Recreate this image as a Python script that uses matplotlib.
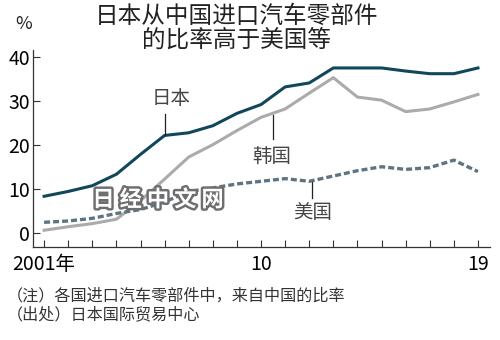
import matplotlib
matplotlib.use("Agg")
import matplotlib.pyplot as plt
import matplotlib.patheffects as pe

plt.rcParams['font.family'] = ['Noto Sans CJK SC', 'DejaVu Sans']

years = list(range(2001, 2020))
japan = [8.4, 9.5, 10.8, 13.4, 17.9, 22.2, 22.8, 24.4, 27.2, 29.2,
         33.2, 34.1, 37.5, 37.5, 37.5, 36.8, 36.2, 36.2, 37.5]
korea = [0.7, 1.5, 2.2, 3.2, 7.4, 12.3, 17.3, 20.1, 23.3, 26.3,
         28.2, 31.8, 35.3, 30.9, 30.2, 27.6, 28.2, 29.8, 31.5]
usa = [2.5, 2.8, 3.4, 4.5, 5.4, 7.1, 9.5, 10.3, 11.2, 11.8,
       12.4, 11.8, 13.0, 14.2, 15.1, 14.5, 14.9, 16.6, 14.0]
yticks = [0, 10, 20, 30, 40]
xlabels = {2001: '2001年', 2010: '10', 2019: '19'}

num_font = ['Liberation Sans Narrow', 'Noto Sans CJK SC']

fig = plt.figure(figsize=(5, 3.4), dpi=100)
ax = fig.add_axes([0.066, 0.2735, 0.914, 0.5785])

ax.plot(years, japan, color='#11475a', lw=2.2, solid_joinstyle='round')
ax.plot(years, korea, color='#ababab', lw=2.2, solid_joinstyle='round')
ax.plot(years, usa, color='#5e7480', lw=2.4, dashes=(1.8, 0.9))

ax.set_xlim(2000.54, 2019.5)
ax.set_ylim(-3.1, 41.5)
ax.set_yticks(yticks)
ax.set_yticklabels([str(v) for v in yticks], family=num_font, fontsize=14)
ax.set_xticks(years)
ax.set_xticklabels([xlabels.get(y, '') for y in years], family=num_font, fontsize=14)
ax.tick_params(axis='both', direction='in', length=5, width=0.8, color='#333333')
ax.tick_params(axis='x', pad=5)
ax.tick_params(axis='y', pad=2)
for s in ['top', 'right']:
    ax.spines[s].set_visible(False)
for s in ['left', 'bottom']:
    ax.spines[s].set_color('#333333')
    ax.spines[s].set_linewidth(0.9)

# series labels with leader lines
lbl = dict(fontsize=14, color='#444444', ha='center', va='center', fontweight='light')
ax.text(2006.27, 30.5, '日本', **lbl)
ax.text(2010.46, 17.5, '韩国', **lbl)
ax.text(2012.16, 4.8, '美国', **lbl)
ax.plot([2006, 2006], [22.4, 27.1], color='#222222', lw=0.9)
ax.plot([2010.5, 2010.5], [21.5, 26.9], color='#222222', lw=0.9)
ax.plot([2012.12, 2012.12], [8.1, 11.6], color='#222222', lw=0.9)

fig.text(0.474, 0.953, '日本从中国进口汽车零部件', ha='center', va='center',
         fontsize=17, color='#222222', fontweight='light')
fig.text(0.474, 0.882, '的比率高于美国等', ha='center', va='center',
         fontsize=17, color='#222222', fontweight='light')
fig.text(0.048, 0.93, '%', ha='center', va='center', fontsize=13,
         family=num_font, color='#222222')

# watermark
wm = fig.text(0.316, 0.412, '日 经 中 文 网', ha='center', va='center', fontsize=16,
              fontweight='bold', color='white')
wm.set_path_effects([pe.Stroke(linewidth=3.5, foreground='#6e6e6e'), pe.Normal()])

fig.text(0.014, 0.13, '（注）各国进口汽车零部件中，来自中国的比率', ha='left', va='center',
         fontsize=11.6, color='#333333')
fig.text(0.014, 0.073, '（出处）日本国际贸易中心', ha='left', va='center',
         fontsize=11.6, color='#333333')

fig.savefig('out.png', dpi=100)
